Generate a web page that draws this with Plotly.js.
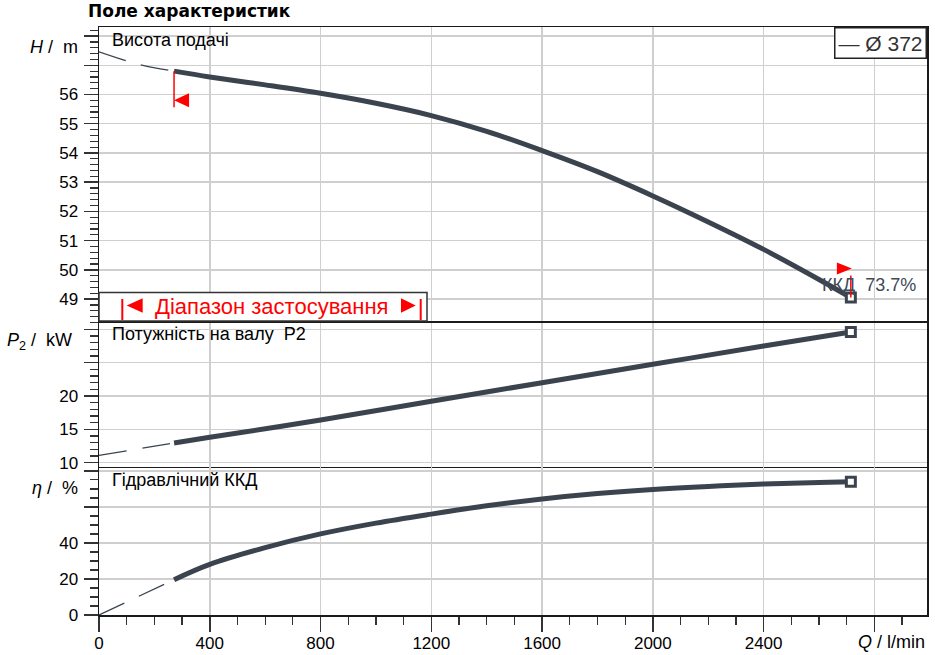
<!DOCTYPE html>
<html>
<head>
<meta charset="utf-8">
<script src="https://cdn.plot.ly/plotly-3.0.1.min.js"></script>
<style>html,body{margin:0;padding:0;background:#fff}#chart{width:935px;height:655px}</style>
</head>
<body>
<div id="chart"></div>
<script>
// ---------- data ----------
const qHead    = [271, 400, 600, 800, 1000, 1200, 1400, 1600, 1800, 2000, 2200, 2400, 2600, 2715];
const head     = [56.80, 56.60, 56.33, 56.04, 55.70, 55.28, 54.74, 54.08, 53.36, 52.53, 51.64, 50.70, 49.67, 49.05];
const qHeadExt = [0, 103, 162, 271];
const headExt  = [57.46, 57.14, 56.99, 56.80];

const qPower    = [271, 400, 800, 1200, 1600, 2000, 2400, 2715];
const power     = [12.95, 13.8, 16.4, 19.2, 22.0, 24.75, 27.5, 29.6];
const qPowerExt = [0, 271];
const powerExt  = [11.1, 12.95];

const qEff    = [271, 400, 600, 800, 1000, 1200, 1400, 1600, 1800, 2000, 2200, 2400, 2600, 2715];
const eff     = [19.6, 28.1, 37.4, 45.0, 51.0, 56.0, 60.6, 64.4, 67.4, 69.7, 71.4, 72.7, 73.6, 74.0];
const qEffExt = [0, 271];
const effExt  = [0, 19.6];

const xTickVals = [0, 400, 800, 1200, 1600, 2000, 2400, 2800];
const xTickText = ['0', '400', '800', '1200', '1600', '2000', '2400', ''];
const panelTitles = ['Висота подачі', 'Потужність на валу\u00A0\u00A0P2', 'Гідравлічний ККД'];
const legendLabel = '—\u00A0Ø 372';
const effLabel = 'ККД\u00A0\u00A073.7%';
const rangeLabel = 'Діапазон застосування';
const chartTitle = 'Поле характеристик';

// ---------- styling ----------
const FONT = 'Liberation Sans, Arial, sans-serif';
const curveColor = '#3b444e';
const gridColor = '#cfcfcf';
const lineColor = '#1a1a1a';
const tickColor = '#333';

// plot-area pixel -> paper helpers (plot area: x 99..927, y 27..615)
const px = v => (v - 99) / 828;
const py = v => (615 - v) / 588;

function solid(x, y, xa, ya) {
  return {x, y, xaxis: xa, yaxis: ya, type: 'scatter', mode: 'lines',
    line: {color: curveColor, width: 5, shape: 'spline', smoothing: 1},
    hoverinfo: 'skip', showlegend: false};
}
function ext(x, y, xa, ya) {
  return {x, y, xaxis: xa, yaxis: ya, type: 'scatter', mode: 'lines',
    line: {color: curveColor, width: 1.3, dash: '28px,16px', shape: 'spline', smoothing: 1},
    hoverinfo: 'skip', showlegend: false};
}
function endMark(x, y, xa, ya) {
  return {x: [x[x.length - 1]], y: [y[y.length - 1]], xaxis: xa, yaxis: ya, type: 'scatter', mode: 'markers',
    marker: {symbol: 'square', size: 9, color: '#fff', line: {color: curveColor, width: 3}},
    hoverinfo: 'skip', showlegend: false};
}

const data = [
  ext(qHeadExt, headExt, 'x3', 'y'), solid(qHead, head, 'x3', 'y'), endMark(qHead, head, 'x3', 'y'),
  ext(qPowerExt, powerExt, 'x2', 'y2'), solid(qPower, power, 'x2', 'y2'), endMark(qPower, power, 'x2', 'y2'),
  ext(qEffExt, effExt, 'x', 'y3'), solid(qEff, eff, 'x', 'y3'), endMark(qEff, eff, 'x', 'y3')
];

const tickFont = {family: FONT, size: 17, color: '#000'};
const baseX = {
  range: [0, 2990], tickmode: 'array', tickvals: xTickVals, ticktext: xTickText,
  showgrid: true, gridcolor: gridColor, gridwidth: 1.5, zeroline: false,
  showline: true, linecolor: lineColor, linewidth: 1.5, mirror: true, fixedrange: true
};
function yAxis(domain, range, dtick, minorDtick, alias, anchor) {
  return {
    domain, range, anchor, tickmode: 'linear', tick0: 0, dtick, labelalias: alias,
    showgrid: true, gridcolor: gridColor, gridwidth: 1.5, zeroline: false,
    showline: true, linecolor: lineColor, linewidth: 1.5, mirror: true,
    ticks: 'outside', ticklen: 14, tickwidth: 1.5, tickcolor: tickColor, tickfont: tickFont,
    ticklabelstandoff: 2,
    minor: {tickmode: 'linear', tick0: 0, dtick: minorDtick, ticks: 'outside', ticklen: 8, tickwidth: 1.2, tickcolor: tickColor, showgrid: false},
    fixedrange: true
  };
}

const qS = qHead[0], qE = qHead[qHead.length - 1];
const hS = head[0], hE = head[head.length - 1];

const layout = {
  width: 935, height: 655,
  margin: {l: 99, r: 8, t: 27, b: 40},
  paper_bgcolor: '#fff', plot_bgcolor: '#fff',
  font: {family: FONT, size: 18, color: '#000'},
  showlegend: false,
  title: {text: '<b>' + chartTitle + '</b>', font: {family: 'DejaVu Sans, sans-serif', size: 17, color: '#000'},
    xref: 'container', x: 88 / 935, xanchor: 'left', yref: 'container', y: 1 - 11 / 655, yanchor: 'middle', pad: {t: 0, b: 0, l: 0, r: 0}},
  xaxis: Object.assign({}, baseX, {anchor: 'y3', ticks: 'outside', ticklen: 15, tickwidth: 1.5, tickcolor: tickColor, tickfont: tickFont,
    ticklabelstandoff: -3,
    minor: {tickmode: 'linear', tick0: 0, dtick: 100, ticks: 'outside', ticklen: 8, tickwidth: 1.2, tickcolor: tickColor, showgrid: false}}),
  xaxis2: Object.assign({}, baseX, {anchor: 'y2', matches: 'x', ticks: '', showticklabels: false, showline: false}),
  xaxis3: Object.assign({}, baseX, {anchor: 'y', matches: 'x', ticks: '', showticklabels: false}),
  yaxis: yAxis([0.5, 1], [48.25, 58.31], 1, 0.2, {'57': '', '58': ''}, 'x3'),
  yaxis2: yAxis([0.25, 0.5], [9.2, 31.25], 5, 1, {'25': '', '30': ''}, 'x2'),
  yaxis3: yAxis([0, 0.25], [0, 81.6], 20, 5, {'60': '', '80': ''}, 'x'),
  shapes: [
    // application range legend box
    {type: 'rect', xref: 'paper', yref: 'paper', x0: px(99), x1: px(427), y0: py(321), y1: py(292.5),
      fillcolor: '#fff', line: {color: '#333', width: 1.5}, layer: 'above'},
    {type: 'line', xref: 'paper', yref: 'paper', x0: px(122.3), x1: px(122.3), y0: py(320), y1: py(299), line: {color: '#ff0000', width: 2}, layer: 'above'},
    {type: 'line', xref: 'paper', yref: 'paper', x0: px(420.7), x1: px(420.7), y0: py(320), y1: py(299), line: {color: '#ff0000', width: 2}, layer: 'above'},
    {type: 'path', xref: 'paper', yref: 'paper', layer: 'above', fillcolor: '#ff0000', line: {width: 0},
      path: `M${px(126.7)},${py(305.5)} L${px(142.7)},${py(298.3)} L${px(142.7)},${py(312.7)} Z`},
    {type: 'path', xref: 'paper', yref: 'paper', layer: 'above', fillcolor: '#ff0000', line: {width: 0},
      path: `M${px(415.7)},${py(305.5)} L${px(401)},${py(298.3)} L${px(401)},${py(312.7)} Z`},
    // range start marker on head curve
    {type: 'line', xref: 'x3', yref: 'y', x0: qS, x1: qS, ysizemode: 'pixel', yanchor: hS, y0: 0, y1: -36,
      line: {color: '#ff0000', width: 1.5}, layer: 'above'},
    {type: 'path', xref: 'x3', yref: 'y', xsizemode: 'pixel', xanchor: qS, ysizemode: 'pixel', yanchor: hS,
      path: 'M0,-29 L15,-22 L15,-36 Z', fillcolor: '#ff0000', line: {width: 0}, layer: 'above'},
    // range end marker
    {type: 'line', xref: 'x3', yref: 'y', x0: qE, x1: qE, ysizemode: 'pixel', yanchor: hE, y0: 0, y1: 22,
      line: {color: '#ff0000', width: 1.5}, layer: 'above'},
    {type: 'path', xref: 'x3', yref: 'y', xsizemode: 'pixel', xanchor: qE, ysizemode: 'pixel', yanchor: hE,
      path: 'M1,29 L-14,35 L-14,23 Z', fillcolor: '#ff0000', line: {width: 0}, layer: 'above'}
  ],
  annotations: [
    {text: panelTitles[0], xref: 'paper', yref: 'paper', x: px(110), y: py(40), xanchor: 'left', yanchor: 'middle', showarrow: false, font: {size: 18}},
    {text: panelTitles[1], xref: 'paper', yref: 'paper', x: px(110), y: py(334), xanchor: 'left', yanchor: 'middle', showarrow: false, font: {size: 18}},
    {text: panelTitles[2], xref: 'paper', yref: 'paper', x: px(110), y: py(480), xanchor: 'left', yanchor: 'middle', showarrow: false, font: {size: 18}},
    {text: '<i>H</i> / \u00A0m', xref: 'paper', yref: 'paper', x: px(80), y: py(47.5), xanchor: 'right', yanchor: 'middle', showarrow: false, font: {size: 18}},
    {text: '<i>P</i><sub>2</sub> / \u00A0kW', xref: 'paper', yref: 'paper', x: px(74), y: py(341), xanchor: 'right', yanchor: 'middle', showarrow: false, font: {size: 18}},
    {text: '<i>η</i> / \u00A0%', xref: 'paper', yref: 'paper', x: px(80), y: py(488), xanchor: 'right', yanchor: 'middle', showarrow: false, font: {size: 18}},
    {text: '<i>Q</i> / l/min', xref: 'paper', yref: 'paper', x: px(927), y: py(642), xanchor: 'right', yanchor: 'middle', showarrow: false, font: {size: 18}},
    {text: legendLabel, xref: 'paper', yref: 'paper', x: 1, y: 1, xanchor: 'right', yanchor: 'top', showarrow: false,
      font: {size: 21, color: '#333'}, bgcolor: '#fff', bordercolor: '#222', borderwidth: 1.5, borderpad: 3},
    {text: effLabel, xref: 'x3', yref: 'y', x: qE, y: hE, xanchor: 'left', yanchor: 'middle', xshift: -31, yshift: 13,
      showarrow: false, font: {size: 18, color: '#3e4a57'}},
    {text: rangeLabel, xref: 'paper', yref: 'paper', x: px(271.5), y: py(306), xanchor: 'center', yanchor: 'middle', showarrow: false,
      font: {size: 22, color: '#ff0000'}}
  ]
};

Plotly.newPlot('chart', data, layout, {displayModeBar: false, staticPlot: true});
</script>
</body>
</html>
